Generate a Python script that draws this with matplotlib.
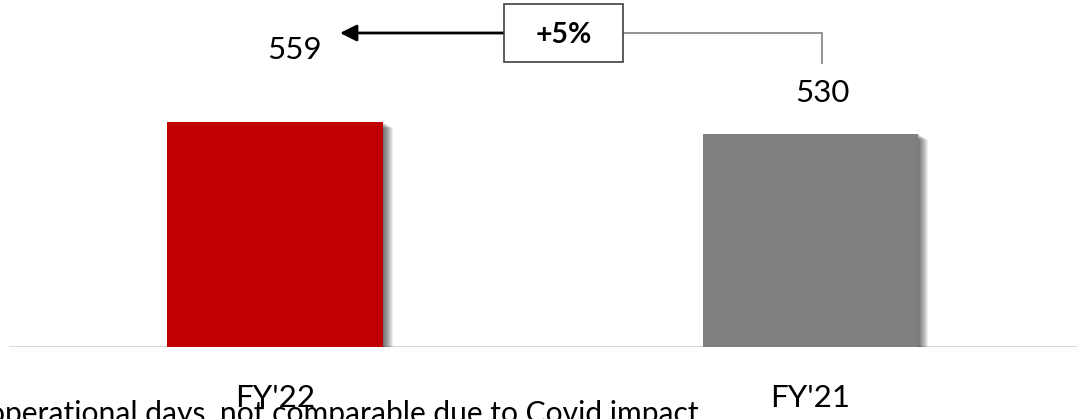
import matplotlib
matplotlib.use("Agg")
import matplotlib.pyplot as plt
import matplotlib.patheffects as pe
from matplotlib.patches import Rectangle

plt.rcParams["font.family"] = ["Lato", "DejaVu Sans"]

# Data
categories = ["FY'22", "FY'21"]
values = [559, 530]
bar_colors = ["#C00000", "#7F7F7F"]
growth_label = "+5%"
footnote = "operational days, not comparable due to Covid impact"

W, H, DPI = 1077, 419, 100
fig = plt.figure(figsize=(W / DPI, H / DPI), dpi=DPI)

# axes: baseline 72 px above the bottom edge, full width
ax = fig.add_axes([0, 72 / H, 1, 347 / H])
ax.set_xlim(-0.5135, 1.4977)
ax.set_ylim(0, 862)
ax.axis("off")

PX = 72 / DPI  # points per pixel

# soft drop shadow built from stacked offset shadows
shadow = [pe.SimplePatchShadow(offset=(d * PX, -d * 0.6 * PX),
                               shadow_rgbFace="black", alpha=0.07)
          for d in range(1, 11)]
shadow.append(pe.Normal())

x = list(range(len(categories)))
bars = ax.bar(x, values, width=0.403, color=bar_colors, zorder=3)
for b in bars:
    b.set_path_effects(shadow)

# baseline
ax.axhline(0, xmin=10 / W, xmax=1, color="#D9D9D9", lw=1.5, zorder=2)

# value labels
label_offsets = [(19.5, 63), (12, 32)]
for xi, v, (dx, dy) in zip(x, values, label_offsets):
    ax.annotate(f"{v}", xy=(xi, v), xytext=(dx * PX, dy * PX),
                textcoords="offset points", ha="center", va="baseline",
                fontsize=22.5, color="black")

# category labels below the baseline
for xi, c in zip(x, categories):
    ax.annotate(c, xy=(xi, 0), xytext=(0, -60 * PX), textcoords="offset points",
                ha="center", va="baseline", fontsize=22.5, color="black")


def fpos(px, py):
    """pixel position measured from the top-left corner -> figure fraction"""
    return px / W, 1 - py / H


# growth box
bx0, by0 = fpos(504, 62)
bx1, by1 = fpos(623, 4)
fig.patches.append(Rectangle((bx0, by0), bx1 - bx0, by1 - by0,
                             transform=fig.transFigure, facecolor="white",
                             edgecolor="#404040", lw=1.2, zorder=5))
fig.text(*fpos(563.5, 43), growth_label, ha="center", va="baseline",
         fontsize=20.5, fontweight="bold", color="black", zorder=6)

# arrow towards the FY'22 value
fig.add_artist(matplotlib.patches.FancyArrowPatch(
    fpos(504, 33), fpos(340, 33), transform=fig.transFigure,
    arrowstyle="-|>,head_length=10,head_width=5", lw=2, color="black",
    shrinkA=0, shrinkB=0, mutation_scale=1))

# connector from the box to the FY'21 value
fig.add_artist(matplotlib.lines.Line2D(
    [fpos(623, 33)[0], fpos(822, 33)[0], fpos(822, 63)[0]],
    [fpos(623, 33)[1], fpos(822, 33)[1], fpos(822, 63)[1]],
    transform=fig.transFigure, color="#7F7F7F", lw=1.2))

# footnote, partly running off the canvas
fig.text(*fpos(699, 423), footnote, ha="right", va="baseline",
         fontsize=21.6, color="black")

fig.savefig("out.png", dpi=DPI)
